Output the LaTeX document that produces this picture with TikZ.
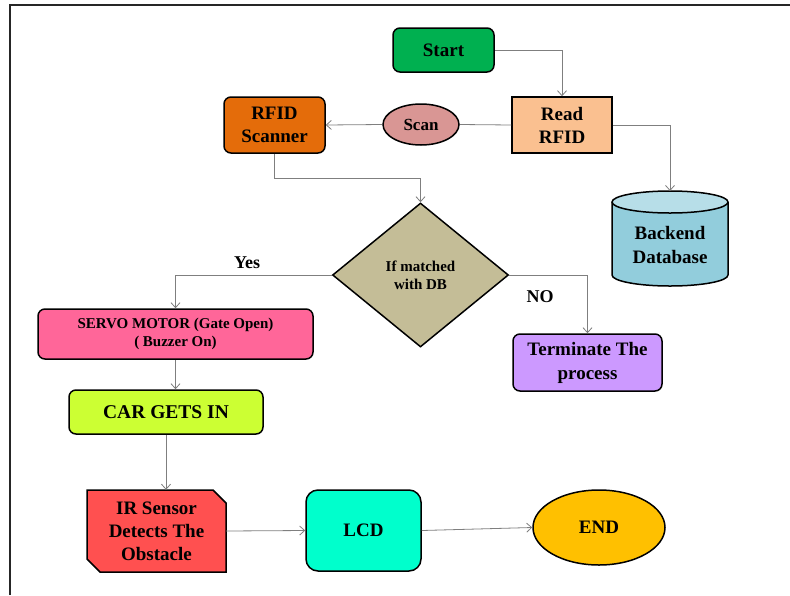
\documentclass[tikz,border=0pt]{standalone}
\usepackage{fontspec}
\setmainfont{Liberation Serif}
\usetikzlibrary{arrows.meta,shapes.geometric}
\definecolor{cStart}{HTML}{00B050}
\definecolor{cRead}{HTML}{FAC090}
\definecolor{cScan}{HTML}{D99694}
\definecolor{cScanner}{HTML}{E46C0A}
\definecolor{cDbBody}{HTML}{92CDDC}
\definecolor{cDbTop}{HTML}{B7DEE8}
\definecolor{cDec}{HTML}{C4BD97}
\definecolor{cServo}{HTML}{FF6699}
\definecolor{cCar}{HTML}{CCFF33}
\definecolor{cTerm}{HTML}{CC99FF}
\definecolor{cIR}{HTML}{FF5050}
\definecolor{cLCD}{HTML}{00FFCC}
\definecolor{cEnd}{HTML}{FFC000}
\definecolor{cLine}{HTML}{7F7F7F}
\tikzset{
  box/.style={draw=black, line width=1.5pt, inner sep=0pt, align=center, font=\bfseries\fontsize{19}{23}\selectfont},
  rbox/.style={box, rounded corners=7pt},
  oval/.style={box, ellipse},
  conn/.style={draw=cLine, line width=0.8pt, -{Straight Barb[length=5pt,width=9pt]}},
  plainconn/.style={draw=cLine, line width=0.8pt},
  lbl/.style={font=\bfseries\fontsize{18}{22}\selectfont, inner sep=0pt}
}
\begin{document}
\begin{tikzpicture}[x=1pt,y=-1pt]
\useasboundingbox (0,0) rectangle (790,595);
% frame
\draw[line width=1.5pt, black!85] (10,595) -- (10,5) -- (790,5);

% nodes
\node[rbox, fill=cStart, minimum width=101, minimum height=44] (start) at (443.5,50) {Start};
\node[box, fill=cRead, minimum width=100, minimum height=56] (read) at (562,125) {Read\\RFID};
\node[oval, fill=cScan, minimum width=76, minimum height=41, font=\bfseries\fontsize{17}{20}\selectfont] (scan) at (421,124.5) {Scan};
\node[rbox, fill=cScanner, minimum width=101, minimum height=56] (scanner) at (274.5,125) {RFID\\Scanner};

% database cylinder
\fill[cDbBody] (612,202) -- (612,275) arc[start angle=180,end angle=0,x radius=58,y radius=11] -- (728,202) arc[start angle=0,end angle=180,x radius=58,y radius=11] -- cycle;
\draw[line width=1.5pt] (612,202) -- (612,275) arc[start angle=180,end angle=0,x radius=58,y radius=11] -- (728,202);
\filldraw[fill=cDbTop, line width=1.5pt] (670,202) ellipse[x radius=58,y radius=11];
\node[align=center, inner sep=0pt, font=\bfseries\fontsize{19}{24}\selectfont] (db) at (670,245) {Backend\\Database};
\coordinate (dbtop) at (670,191);

\node[box, diamond, fill=cDec, minimum width=176, minimum height=144, font=\bfseries\fontsize{15}{18}\selectfont] (dec) at (420.5,275) {If matched\\with DB};

\node[rbox, fill=cServo, minimum width=275, minimum height=50, font=\bfseries\fontsize{15}{18}\selectfont] (servo) at (175.5,334) {SERVO MOTOR (Gate Open)\\( Buzzer On)};
\node[rbox, fill=cCar, minimum width=194, minimum height=44, font=\bfseries\fontsize{19.5}{23}\selectfont] (car) at (166,412) {CAR GETS IN};
\node[rbox, fill=cTerm, minimum width=149, minimum height=57, font=\bfseries\fontsize{19}{24}\selectfont] (term) at (587.5,362.5) {Terminate The\\process};

% IR sensor (snipped corners)
\filldraw[fill=cIR, line width=1.5pt] (87,490) -- (213,490) -- (226,503) -- (226,572) -- (100,572) -- (87,559) -- cycle;
\node[align=center, inner sep=0pt, minimum width=139, minimum height=82, font=\bfseries\fontsize{19}{23}\selectfont] (ir) at (156.5,531) {IR Sensor\\Detects The\\Obstacle};

\node[box, rounded corners=12pt, fill=cLCD, minimum width=115, minimum height=81] (lcd) at (363.5,530.5) {LCD};
\node[oval, fill=cEnd, minimum width=132, minimum height=75] (endn) at (599,527.5) {END};

% connectors
\draw[conn] (start.east) -| (read.north);
\draw[plainconn] (read.west) -- (scan.east);
\draw[conn] (scan.west) -- (scanner.east);
\draw[conn] (read.east) -| (dbtop);
\draw[conn] (scanner.south) -- ++(0,25) -| (dec.north);
\draw[conn] (dec.west) -| (servo.north);
\draw[conn] (dec.east) -| (term.north);
\draw[conn] (servo.south) -- (servo.south |- car.north);
\draw[conn] (car.south) -- (car.south |- ir.north);
\draw[conn] (ir.east) -- (lcd.west);
\draw[conn] (lcd.east) -- (endn.west);

% labels
\node[lbl] (yes) at (247,263) {Yes};
\node[lbl] (no) at (540,297) {NO};
\end{tikzpicture}
\end{document}
